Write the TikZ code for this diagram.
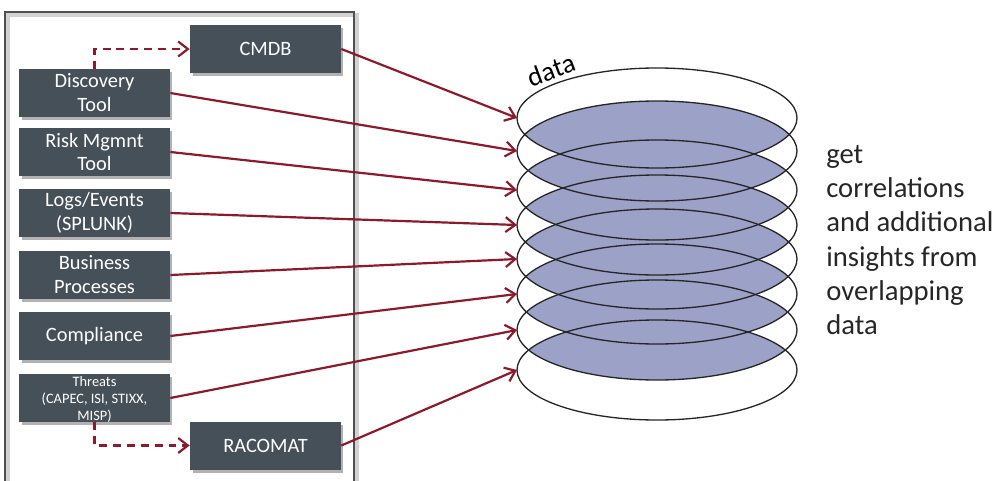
\documentclass[tikz,border=0pt]{standalone}
\usepackage{fontspec}
\setmainfont{Carlito}
\usetikzlibrary{arrows.meta,shadows}
\definecolor{boxc}{HTML}{465058}
\definecolor{arrc}{HTML}{8C1A2B}
\definecolor{fillc}{HTML}{9BA1C7}
\definecolor{framec}{HTML}{505050}
\tikzset{
  box/.style={fill=boxc, text=white, minimum width=3.02cm, minimum height=0.96cm,
    inner sep=0pt, align=center, font=\fontsize{11.6}{13.6}\selectfont,
    drop shadow={shadow xshift=0.05cm, shadow yshift=-0.06cm, fill=black, opacity=0.3}},
  smallbox/.style={box, font=\fontsize{8.2}{9.8}\selectfont},
  ellline/.style={draw=black!85, line width=0.75pt},
  arr/.style={draw=arrc, line width=1.25pt, -{Straight Barb[length=5.5pt,width=8.5pt]}},
  darr/.style={arr, dash pattern=on 4.5pt off 3.4pt},
}
\begin{document}
\begin{tikzpicture}[x=0.02cm, y=-0.02cm]
\useasboundingbox (0,0) rectangle (1000,480);
\clip (0,0) rectangle (1000,480);
% frame
\draw[gray!35, line width=2.5pt] (8,495) |- (357,15) -- (357,495);
\draw[framec, line width=0.7pt] (5,495) |- (354,12) -- (354,495);
% overlapping fills
\foreach \a/\b in {118/151,151/190,190/225,225/259,259/294,294/330,330/370}{
  \begin{scope}
    \clip (657,\a) ellipse [x radius=140, y radius=50];
    \fill[fillc] (657,\b) ellipse [x radius=140, y radius=50];
  \end{scope}
}
% ellipses (data layers) and their left points
\foreach \c/\n in {118/e1,151/e2,190/e3,225/e4,259/e5,294/e6,330/e7,370/e8}{
  \draw[ellline] (657,\c) ellipse [x radius=140, y radius=50];
  \coordinate (\n) at (517,\c);
}
\node[rotate=20, font=\fontsize{15.5}{18}\selectfont, inner sep=0pt] (lbl) at (551,70) {data};
% boxes
\node[box] (cmdb) at (265.5,49) {CMDB};
\node[box] (disc) at (94.5,93) {Discovery\\Tool};
\node[box] (risk) at (94.5,152) {Risk Mgmnt\\Tool};
\node[box] (logs) at (94.5,213) {Logs/Events\\(SPLUNK)};
\node[box] (bus) at (94.5,275) {Business\\Processes};
\node[box] (comp) at (94.5,336) {Compliance};
\node[smallbox] (thr) at (94.5,398) {};
\node[font=\fontsize{8.2}{9.8}\selectfont, text=white, align=center, inner sep=0pt, anchor=north] (thrt) at (94.5,376) {Threats\\(CAPEC, ISI, STIXX,\\MISP)};
\node[box] (rac) at (265.5,445.5) {RACOMAT};
% right text
\node[anchor=north west, align=left, inner sep=0pt, text=black!85,
  font=\fontsize{16.3}{19.5}\selectfont] (txt) at (826,145)
  {get\\correlations\\and additional\\insights from\\overlapping\\data};
% connectors
\draw[darr] (disc.north) |- (cmdb.west);
\draw[darr] (thr.south) |- (rac.west);
\draw[arr] (cmdb.east) -- (e1);
\draw[arr] (disc.east) -- (e2);
\draw[arr] (risk.east) -- (e3);
\draw[arr] (logs.east) -- (e4);
\draw[arr] (bus.east) -- (e5);
\draw[arr] (comp.east) -- (e6);
\draw[arr] (thr.east) -- (e7);
\draw[arr] (rac.east) -- (e8);
\end{tikzpicture}
\end{document}
